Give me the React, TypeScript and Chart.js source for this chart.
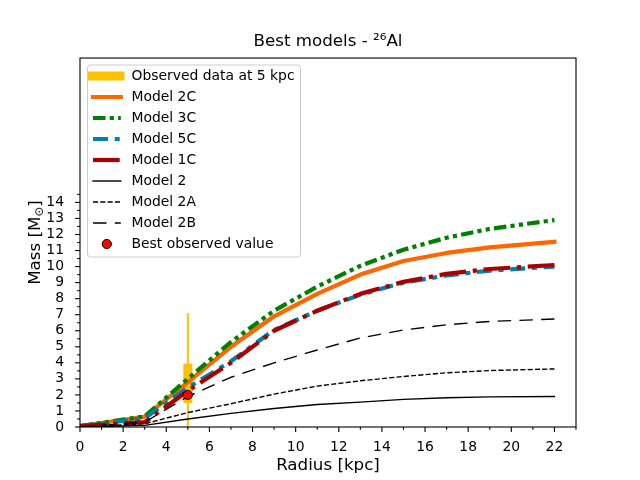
import React, { useRef, useEffect } from 'react';
import { Chart, registerables } from 'chart.js';

Chart.register(...registerables);

// radius grid of the models [kpc]
const radius = [0, 3, 5, 7, 9, 11, 13, 15, 17, 19, 22];

// cumulative 26Al mass [Msun] per model
const model2C = [0.05, 0.64, 2.8, 5.0, 6.9, 8.3, 9.5, 10.35, 10.85, 11.2, 11.55];
const model3C = [0.05, 0.66, 3.0, 5.3, 7.25, 8.75, 10.05, 11.05, 11.8, 12.35, 12.9];
const model5C = [0.05, 0.55, 2.45, 4.1, 6.05, 7.25, 8.25, 9.0, 9.45, 9.75, 10.0];
const model1C = [0.05, 0.3, 2.25, 4.0, 6.0, 7.25, 8.3, 9.05, 9.55, 9.85, 10.1];
const model2 = [0, 0.1, 0.5, 0.85, 1.15, 1.4, 1.55, 1.72, 1.82, 1.88, 1.9];
const model2A = [0, 0.2, 0.9, 1.45, 2.05, 2.55, 2.88, 3.15, 3.38, 3.52, 3.62];
const model2B = [0, 0.3, 1.9, 3.1, 4.0, 4.8, 5.55, 6.05, 6.37, 6.58, 6.73];

// observation at 5 kpc
const obsRadius = 5;
const obsRange = [0, 7.1];
const obsCore = [1.5, 3.95];
const bestValue = 2.0;

const xTicks = [0, 2, 4, 6, 8, 10, 12, 14, 16, 18, 20, 22];
const yTicks = [0, 1, 2, 3, 4, 5, 6, 7, 8, 9, 10, 11, 12, 13, 14];

const FONT = "'DejaVu Sans', sans-serif";
const GOLD = '#ffc000';

type Series = { label: string; values: number[]; color: string; width: number; dash: number[] };

const models: Series[] = [
  { label: 'Model 2C', values: model2C, color: '#ff6600', width: 4.2, dash: [] },
  { label: 'Model 3C', values: model3C, color: '#008000', width: 4.2, dash: [12.5, 4.2, 4.2, 4.2, 4.2, 4.2] },
  { label: 'Model 5C', values: model5C, color: '#0080aa', width: 4.2, dash: [15, 6.7, 5, 6.7] },
  { label: 'Model 1C', values: model1C, color: '#aa0000', width: 4.2, dash: [26.7, 6.7, 4.2, 6.7] },
  { label: 'Model 2', values: model2, color: '#000000', width: 1.4, dash: [] },
  { label: 'Model 2A', values: model2A, color: '#000000', width: 1.4, dash: [5.1, 2.2] },
  { label: 'Model 2B', values: model2B, color: '#000000', width: 1.4, dash: [13.5, 8.3] },
];

// frame, matplotlib-like major/minor ticks, y label with subscript, legend
const decorPlugin = {
  id: 'decor',
  afterDatasetsDraw(chart: any) {
    const { ctx, chartArea: a, scales } = chart;
    const xs = scales.x;
    const ys = scales.y;
    ctx.save();
    ctx.strokeStyle = '#000';
    ctx.lineWidth = 1.1;
    ctx.setLineDash([]);
    ctx.strokeRect(a.left, a.top, a.right - a.left, a.bottom - a.top);

    const xt = (v: number, len: number) => {
      const p = xs.getPixelForValue(v);
      ctx.beginPath();
      ctx.moveTo(p, a.bottom);
      ctx.lineTo(p, a.bottom + len);
      ctx.stroke();
    };
    const yt = (v: number, len: number) => {
      const p = ys.getPixelForValue(v);
      ctx.beginPath();
      ctx.moveTo(a.left, p);
      ctx.lineTo(a.left - len, p);
      ctx.stroke();
    };
    xTicks.forEach((v) => xt(v, 4.9));
    xTicks.forEach((v) => xt(v + 1, 2.8));
    yTicks.forEach((v) => yt(v, 4.9));
    yTicks.forEach((v) => yt(v + 0.5, 2.8));

    // y axis label
    ctx.save();
    ctx.translate(36, (a.top + a.bottom) / 2);
    ctx.rotate(-Math.PI / 2);
    ctx.fillStyle = '#000';
    ctx.textBaseline = 'middle';
    ctx.textAlign = 'left';
    const big = `16.7px ${FONT}`;
    const small = `11.7px ${FONT}`;
    ctx.font = big;
    const w1 = ctx.measureText('Mass [M').width;
    const w3 = ctx.measureText(']').width;
    ctx.font = small;
    const w2 = ctx.measureText('⊙').width;
    const x0 = -(w1 + w2 + w3) / 2;
    ctx.font = big;
    ctx.fillText('Mass [M', x0, 0);
    ctx.font = small;
    ctx.fillText('⊙', x0 + w1, 3.5);
    ctx.font = big;
    ctx.fillText(']', x0 + w1 + w2, 0);
    ctx.restore();

    // legend
    const bx = 87.5, by = 65, bw = 213, bh = 192;
    ctx.beginPath();
    ctx.roundRect(bx, by, bw, bh, 3);
    ctx.fillStyle = 'rgba(255,255,255,0.8)';
    ctx.fill();
    ctx.strokeStyle = '#cccccc';
    ctx.lineWidth = 1;
    ctx.stroke();

    const rowY = (i: number) => 76 + i * 21;
    const lx0 = 93, lx1 = 120.8;
    ctx.font = `13.9px ${FONT}`;
    ctx.textBaseline = 'middle';
    ctx.textAlign = 'left';

    ctx.fillStyle = GOLD;
    ctx.fillRect(88, rowY(0) - 4.5, 36.5, 9);
    ctx.fillStyle = '#000';
    ctx.fillText('Observed data at 5 kpc', 131.5, rowY(0));

    models.forEach((m, i) => {
      const y = rowY(i + 1);
      ctx.beginPath();
      ctx.strokeStyle = m.color;
      ctx.lineWidth = m.width;
      ctx.setLineDash(m.dash);
      ctx.lineCap = m.dash.length ? 'butt' : 'square';
      ctx.moveTo(lx0, y);
      ctx.lineTo(lx1, y);
      ctx.stroke();
      ctx.setLineDash([]);
      ctx.fillStyle = '#000';
      ctx.fillText(m.label, 131.5, y);
    });

    const my = rowY(models.length + 1);
    ctx.beginPath();
    ctx.arc(106.8, my, 4.6, 0, Math.PI * 2);
    ctx.fillStyle = '#ff0000';
    ctx.fill();
    ctx.strokeStyle = '#000';
    ctx.lineWidth = 1;
    ctx.stroke();
    ctx.fillStyle = '#000';
    ctx.fillText('Best observed value', 131.5, my);

    ctx.restore();
  },
};

const App: React.FC = () => {
  const canvasRef = useRef<HTMLCanvasElement>(null);
  const chartRef = useRef<Chart | null>(null);

  useEffect(() => {
    if (!canvasRef.current) return;
    const ctx = canvasRef.current.getContext('2d');
    if (!ctx) return;
    if (chartRef.current) chartRef.current.destroy();

    const n = models.length + 2;
    const datasets: any[] = [
      {
        label: 'Observed data at 5 kpc',
        data: obsRange.map((v) => ({ x: obsRadius, y: v })),
        borderColor: GOLD,
        borderWidth: 2,
        borderCapStyle: 'butt',
        pointRadius: 0,
        order: n + 1,
      },
      {
        label: 'Observed core',
        data: obsCore.map((v) => ({ x: obsRadius, y: v })),
        borderColor: GOLD,
        borderWidth: 9,
        borderCapStyle: 'butt',
        pointRadius: 0,
        order: n,
      },
      ...models.map((m, i) => ({
        label: m.label,
        data: radius.map((r, k) => ({ x: r, y: m.values[k] })),
        borderColor: m.color,
        borderWidth: m.width,
        borderDash: m.dash,
        borderCapStyle: m.dash.length ? 'butt' : 'square',
        borderJoinStyle: 'round',
        pointRadius: 0,
        tension: 0,
        order: n - 1 - i,
      })),
      {
        label: 'Best observed value',
        data: [{ x: obsRadius, y: bestValue }],
        showLine: false,
        pointRadius: 4.6,
        pointBackgroundColor: '#ff0000',
        pointBorderColor: '#000',
        pointBorderWidth: 1,
        order: 0,
      },
    ];

    chartRef.current = new Chart(ctx, {
      type: 'line',
      data: { datasets },
      options: {
        responsive: false,
        animation: false,
        layout: { padding: { left: 0, right: 64, top: 0, bottom: 0 } },
        plugins: {
          legend: { display: false },
          tooltip: { enabled: false },
          title: {
            display: true,
            text: 'Best models - ²⁶Al',
            color: '#000',
            fullSize: false,
            font: { family: FONT, size: 16.7, weight: 'normal' },
            padding: { top: 32, bottom: 6 },
          },
        },
        scales: {
          x: {
            type: 'linear',
            min: 0,
            max: 23,
            grid: { display: false },
            border: { display: false },
            afterFit: (s: any) => { s.height = 53; },
            afterBuildTicks: (s: any) => { s.ticks = xTicks.map((v) => ({ value: v })); },
            ticks: { color: '#000', padding: 4, maxRotation: 0, font: { family: FONT, size: 13.9 } },
            title: {
              display: true,
              text: 'Radius [kpc]',
              color: '#000',
              font: { family: FONT, size: 16.7 },
              padding: { top: 0, bottom: 4 },
            },
          },
          y: {
            type: 'linear',
            min: 0,
            max: 23,
            grid: { display: false },
            border: { display: false },
            afterFit: (s: any) => { s.width = 80; },
            afterBuildTicks: (s: any) => { s.ticks = yTicks.map((v) => ({ value: v })); },
            ticks: { color: '#000', padding: 8, font: { family: FONT, size: 13.9 } },
          },
        },
      },
      plugins: [decorPlugin],
    });

    return () => {
      if (chartRef.current) {
        chartRef.current.destroy();
        chartRef.current = null;
      }
    };
  }, []);

  return (
    <div style={{ position: 'absolute', left: 0, top: 0, width: 640, height: 480, background: '#fff' }}>
      <canvas ref={canvasRef} width={640} height={480} />
    </div>
  );
};

export default App;
